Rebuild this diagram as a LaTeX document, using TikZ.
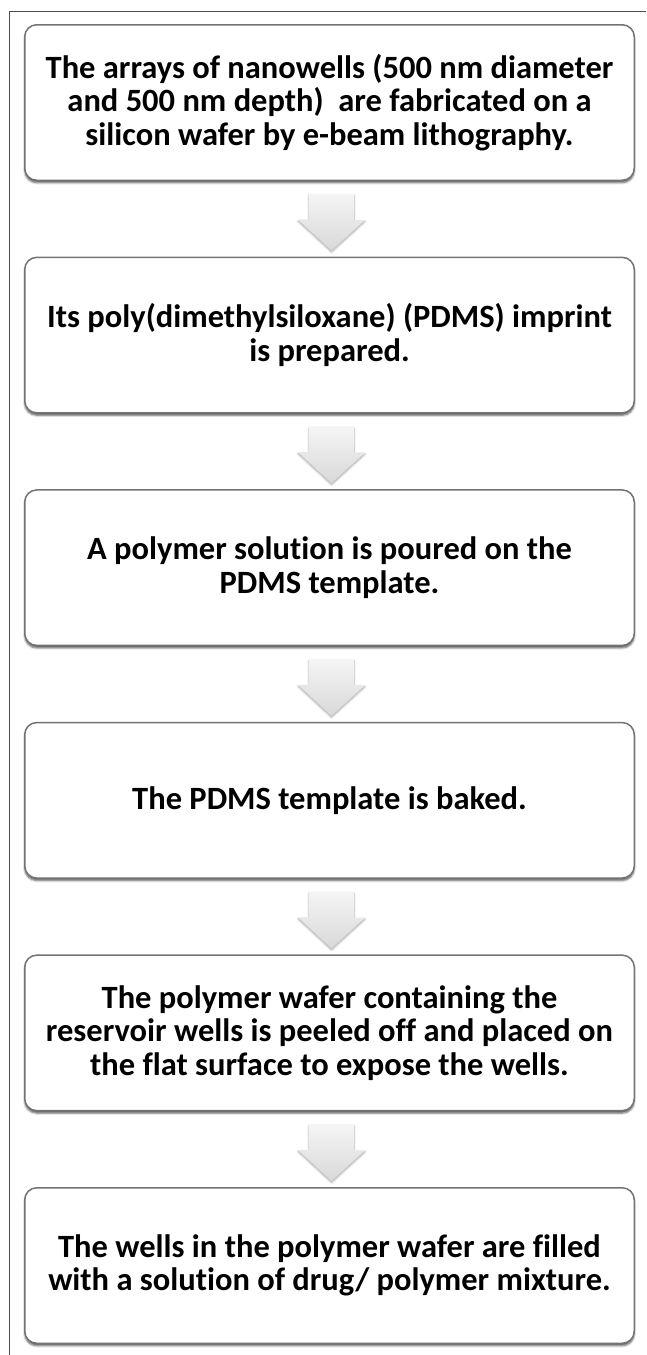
\documentclass[tikz,border=0pt]{standalone}
\usepackage{fontspec}
\setmainfont{Carlito}[Ligatures=NoCommon]
\usepackage{tikz}
\usetikzlibrary{
    positioning,
    calc,
    shadows.blur,
}

\begin{document}
\begin{tikzpicture}[
    x=1pt, y=1pt,
    node distance=75.6pt,
    stepbox/.style={draw=black!55, line width=1.5pt, rounded corners=12pt, fill=white,
                align=center, text=black, font=\fontsize{32.5}{33.5}\selectfont\bfseries,
                minimum width=609.5pt, minimum height=155.5pt, inner sep=0pt,
                blur shadow={shadow xshift=0pt, shadow yshift=-2.5pt, shadow blur radius=2pt, shadow opacity=65}},
    blockarrow/.style={top color=gray!8, bottom color=gray!30, draw=none,
                blur shadow={shadow xshift=0pt, shadow yshift=-1.5pt, shadow blur radius=2pt, shadow opacity=35}},
]

\useasboundingbox (0,0) rectangle (646,-1355);

% frame
\draw[black!70, line width=0.9pt] (9,-1355) -- (9,-11.7) -- (646,-11.7);

% Nanowells
\node[stepbox] (Nanowells) at (329.5,-102.5) {The arrays of nanowells (500 nm diameter\\and 500 nm depth)~ are fabricated on a\\silicon wafer by e-beam lithography.};

% PDMS imprint
\node[stepbox] (Imprint) [below=of Nanowells] {Its poly(dimethylsiloxane) (PDMS) imprint\\is prepared.};

% Polymer solution
\node[stepbox] (Solution) [below=of Imprint] {A polymer solution is poured on the\\PDMS template.};

% Baking
\node[stepbox] (Baking) [below=of Solution] {The PDMS template is baked.};

% Peeling
\node[stepbox] (Peeling) [below=of Baking] {The polymer wafer containing the\\reservoir wells is peeled off and placed on\\the flat surface to expose the wells.};

% Filling
\node[stepbox] (Filling) [below=of Peeling] {The wells in the polymer wafer are filled\\with a solution of drug/ polymer mixture.};

% Arrows
\foreach \a/\b in {Nanowells/Imprint, Imprint/Solution, Solution/Baking, Baking/Peeling, Peeling/Filling}
    \path[blockarrow] ($(\a.south)+(-20.5,-13)$) -- ++(45,0) -- ++(0,-26) -- ++(11,0)
        -- ($(\b.north)+(2,6)$) -- ++(-33.5,31) -- ++(11,0) -- cycle;

\end{tikzpicture}
\end{document}
